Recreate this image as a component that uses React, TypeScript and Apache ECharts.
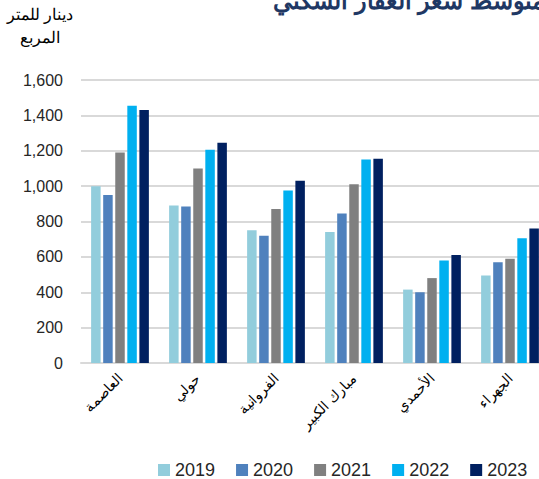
import React, { useEffect, useRef } from "react";
import * as echarts from "echarts";

const categories = ["العاصمة", "حولي", "الفروانية", "مبارك الكبير", "الأحمدي", "الجهراء"];
const years = ["2019", "2020", "2021", "2022", "2023"];
const v2019 = [1000, 890, 750, 740, 415, 495];
const v2020 = [950, 885, 720, 845, 400, 570];
const v2021 = [1190, 1100, 870, 1010, 480, 590];
const v2022 = [1455, 1205, 975, 1150, 580, 705];
const v2023 = [1430, 1245, 1030, 1155, 610, 760];
const yTicks = { min: 0, max: 1600, interval: 200 };
const colors = ["#92CDDC", "#4F81BD", "#808080", "#00B0F0", "#002060"];

export default function App() {
  const ref = useRef<HTMLDivElement>(null);
  useEffect(() => {
    if (!ref.current) return;
    const chart = echarts.init(ref.current, null, { renderer: "svg" });
    const seriesValues = [v2019, v2020, v2021, v2022, v2023];
    const font = "'Liberation Sans', Arial, sans-serif";
    chart.setOption({
      animation: false,
      textStyle: { fontFamily: font },
      grid: {
        left: 81,
        top: 80,
        width: 468,
        height: 283,
        containLabel: false,
        outerBoundsMode: "none",
      },
      legend: {
        data: years,
        left: 158,
        top: 461,
        padding: 0,
        width: 400,
        itemWidth: 12,
        itemHeight: 12,
        itemGap: 21,
        icon: "rect",
        textStyle: { fontSize: 18, color: "#262626", fontFamily: font },
      },
      xAxis: {
        type: "category",
        data: categories,
        axisLine: { lineStyle: { color: "#D9D9D9", width: 2 } },
        axisTick: { show: false },
        axisLabel: { rotate: 45, fontSize: 14, color: "#000", margin: 13, interval: 0 },
      },
      yAxis: {
        type: "value",
        min: yTicks.min,
        max: yTicks.max,
        interval: yTicks.interval,
        axisLine: { show: false },
        axisTick: { show: false },
        splitLine: { lineStyle: { color: "#D9D9D9", width: 2 } },
        axisLabel: {
          fontSize: 16,
          color: "#262626",
          margin: 18,
          formatter: (v: number) => v.toLocaleString("en-US"),
        },
      },
      graphic: [
        {
          type: "text",
          x: 40,
          y: 3,
          style: {
            text: "دينار للمتر\nالمربع",
            fontSize: 16,
            lineHeight: 23,
            align: "center",
            verticalAlign: "top",
            fill: "#000",
            fontFamily: font,
          },
        },
        {
          type: "text",
          x: 545,
          y: 12,
          style: {
            text: "متوسط سعر العقار السكني",
            fontSize: 24,
            fontWeight: "bold",
            align: "right",
            verticalAlign: "bottom",
            fill: "#1F3864",
            fontFamily: font,
          },
        },
      ],
      series: years.map((y, i) => ({
        name: y,
        type: "bar",
        data: seriesValues[i],
        barWidth: 9.5,
        barGap: "27%",
        itemStyle: { color: colors[i] },
      })),
    });
    return () => chart.dispose();
  }, []);
  return <div ref={ref} style={{ width: 539, height: 479, position: "absolute", left: 0, top: 0 }} />;
}
